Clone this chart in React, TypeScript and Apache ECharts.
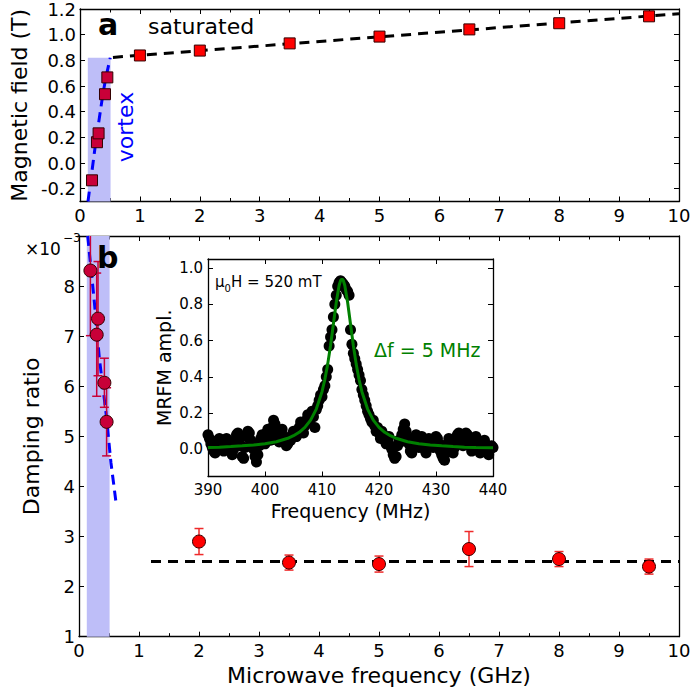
import React, { useEffect, useRef } from 'react';
import * as echarts from 'echarts';

const FONT = 'DejaVu Sans';

// ---------- Panel a : magnetic field vs microwave frequency ----------
const fieldTicks = [-0.2, 0.0, 0.2, 0.4, 0.6, 0.8, 1.0, 1.2];
const vortexFreqA = [0.2, 0.283, 0.31, 0.417, 0.456];
const vortexFieldA = [-0.135, 0.162, 0.231, 0.536, 0.667];
const satFreqA = [1, 2, 3.5, 5, 6.5, 8, 9.5];
const satFieldA = [0.838, 0.876, 0.932, 0.985, 1.041, 1.089, 1.143];
const satFitFreqA = [0.55, 10];
const satFitFieldA = [0.823, 1.163];
const vortexFitFreqA = [0.133, 0.178, 0.262, 0.383, 0.433, 0.505];
const vortexFitFieldA = [-0.3, -0.14, 0.16, 0.54, 0.67, 0.82];
const shadeA = [[0.13, 0.51, -0.3, 0.82]];

// ---------- Panel b : damping ratio (x1e-3) vs microwave frequency ----------
const dampLabelTicks = [1, 2, 3, 4, 5, 6, 7, 8];
const vortexFreqB = [0.19, 0.317, 0.295, 0.423, 0.46];
const vortexDampB = [8.31, 7.35, 7.03, 6.07, 5.29];
const vortexErrB = [1.3, 1.14, 1.23, 0.49, 0.68];
const satFreqB = [2, 3.5, 5, 6.5, 8, 9.5];
const satDampB = [2.9, 2.48, 2.45, 2.75, 2.55, 2.4];
const satErrB = [0.26, 0.15, 0.16, 0.35, 0.15, 0.15];
const vortexFitFreqB = [0.145, 0.256, 0.34, 0.45, 0.533, 0.617];
const vortexFitDampB = [9.0, 7.68, 6.55, 5.47, 4.47, 3.68];
const satFitFreqB = [1.2, 10];
const satFitDampB = [2.5, 2.5];
const shadeB = [[0.13, 0.51, 1, 9]];

// ---------- Inset : MRFM spectrum ----------
const ampTicks = [0.0, 0.2, 0.4, 0.6, 0.8, 1.0];
const sweepStartMHz = 390;
const sweepStepMHz = 0.25;
const mrfmAmp = [
  0.08, 0.06, 0.03, 0.01,
  -0.01, -0.02, 0.02, 0.05,
  0.06, 0.04, 0.01, -0.01,
  0.03, 0.06, 0.05, 0.02,
  -0.01, -0.03, 0.0, 0.04,
  0.08, 0.09, 0.06, 0.02,
  -0.04, -0.05, 0.01, 0.07,
  0.1, 0.09, 0.05, 0.03,
  0.0, -0.04, -0.07, -0.03,
  0.02, 0.06, 0.08, 0.05,
  0.03, 0.09, 0.11, 0.07,
  0.05, 0.12, 0.16, 0.14,
  0.09, 0.05, 0.04, 0.08,
  0.11, 0.07, 0.04, 0.02,
  0.03, 0.06, 0.05, 0.08,
  0.1, 0.09, 0.07, 0.1,
  0.12, 0.15, 0.11, 0.09,
  0.13, 0.16, 0.19, 0.15,
  0.17, 0.21, 0.18, 0.12,
  0.22, 0.24, 0.27, 0.3,
  0.29, 0.33, 0.35, 0.4,
  0.44, 0.57, 0.62, 0.66,
  0.73, 0.8, 0.85, 0.9,
  0.92, 0.93, 0.92, 0.91,
  0.9, 0.88, 0.87, 0.85,
  0.66, 0.58, 0.53, 0.5,
  0.47, 0.44, 0.41, 0.38,
  0.33, 0.3, 0.27, 0.24,
  0.21, 0.19, 0.17, 0.15,
  0.16, 0.13, 0.1, 0.12,
  0.09, 0.06, 0.1, 0.08,
  0.05, 0.03, 0.05, 0.07,
  0.02, 0.0, -0.03, -0.05,
  -0.04, 0.02, 0.05, 0.04,
  0.08, 0.11, 0.14, 0.1,
  0.06, 0.03, -0.01, -0.02,
  0.02, 0.06, 0.08, 0.04,
  0.01, 0.05, 0.07, 0.03,
  0.0, -0.02, 0.04, 0.06,
  0.05, 0.02, 0.01, 0.04,
  0.07, 0.06, 0.03, -0.01,
  -0.03, -0.05, -0.06, -0.02,
  0.03, 0.06, 0.04, 0.0,
  -0.02, 0.01, 0.05, 0.08,
  0.09, 0.07, 0.04, 0.02,
  0.05, 0.09, 0.08, 0.05,
  0.02, -0.01, 0.03, 0.06,
  0.07, 0.04, 0.01, -0.02,
  0.0, 0.03, 0.05, 0.02,
  -0.01, -0.03, 0.0, 0.02,
  0.01,
];
const fitFreq = [390, 392, 394, 396, 398, 400, 402, 404, 405, 406, 407, 408, 409, 410, 410.5, 411, 411.5, 412, 412.5, 413, 413.25, 413.5, 413.75, 414, 414.5, 415, 415.5, 416, 416.5, 417, 418, 419, 420, 421, 422, 423, 425, 427, 429, 431, 433, 435, 437, 440];
const fitAmp = [0.01, 0.012, 0.015, 0.019, 0.024, 0.031, 0.042, 0.061, 0.075, 0.094, 0.121, 0.161, 0.222, 0.318, 0.385, 0.47, 0.573, 0.691, 0.81, 0.904, 0.931, 0.94, 0.931, 0.904, 0.81, 0.691, 0.573, 0.47, 0.385, 0.318, 0.222, 0.161, 0.121, 0.094, 0.075, 0.061, 0.042, 0.031, 0.024, 0.019, 0.015, 0.012, 0.01, 0.008];

const SHADE = 'rgb(190,190,248)';
const CRIMSON = '#c80038';
const RED = '#ff0000';
const GREEN = '#008000';

const zip = (a: number[], b: number[]) => a.map((v, i) => [v, b[i]]);
const zip3 = (a: number[], b: number[], c: number[]) => a.map((v, i) => [v, b[i], c[i]]);

const shadeRender = (_params: any, api: any) => {
  const p0 = api.coord([api.value(0), api.value(3)]);
  const p1 = api.coord([api.value(1), api.value(2)]);
  return {
    type: 'rect',
    shape: { x: p0[0], y: p0[1], width: p1[0] - p0[0], height: p1[1] - p0[1] },
    style: { fill: SHADE },
  };
};

const makeErrRender = (color: string) => (params: any, api: any) => {
  const x = api.value(0);
  const y = api.value(1);
  const e = api.value(2);
  const cs = params.coordSys;
  const pTop = api.coord([x, y + e]);
  const pBot = api.coord([x, y - e]);
  const yTop = Math.max(pTop[1], cs.y);
  const yBot = Math.min(pBot[1], cs.y + cs.height);
  const cw = 4.5;
  const st = { stroke: color, lineWidth: 1.5 };
  const children: any[] = [
    { type: 'line', shape: { x1: pTop[0], y1: yTop, x2: pTop[0], y2: yBot }, style: st },
  ];
  if (pTop[1] >= cs.y) {
    children.push({ type: 'line', shape: { x1: pTop[0] - cw, y1: pTop[1], x2: pTop[0] + cw, y2: pTop[1] }, style: st });
  }
  if (pBot[1] <= cs.y + cs.height) {
    children.push({ type: 'line', shape: { x1: pBot[0] - cw, y1: pBot[1], x2: pBot[0] + cw, y2: pBot[1] }, style: st });
  }
  return { type: 'group', children };
};

const axLine = { show: true, onZero: false, lineStyle: { color: '#000', width: 1.3 } };
const tickStyle = { color: '#000', width: 1 };

function mainX(gridIndex: number, top: boolean, name?: string) {
  return {
    type: 'value',
    gridIndex,
    position: top ? 'top' : 'bottom',
    min: 0,
    max: 10,
    interval: 1,
    axisLine: axLine,
    axisTick: { show: true, inside: true, length: 5, lineStyle: tickStyle },
    minorTick: { show: true, splitNumber: 2, length: 3.5, lineStyle: tickStyle },
    splitLine: { show: false },
    minorSplitLine: { show: false },
    axisLabel: { show: !top, color: '#000', fontSize: 18, margin: 5, fontFamily: FONT },
    name: name || '',
    nameLocation: 'middle',
    nameGap: 28,
    nameTextStyle: { color: '#000', fontSize: 22, fontFamily: FONT },
  };
}

const option: any = {
  animation: false,
  backgroundColor: '#fff',
  textStyle: { fontFamily: FONT },
  grid: [
    { left: 79, top: 5, width: 600, height: 196.5, show: false },
    { left: 79, top: 236, width: 600, height: 400.7, show: false },
    { left: 208, top: 259, width: 285, height: 217.5, show: true, backgroundColor: '#fff', borderWidth: 0, z: 5 },
  ],
  xAxis: [
    mainX(0, false),
    mainX(0, true),
    mainX(1, false, 'Microwave frequency (GHz)'),
    mainX(1, true),
    {
      type: 'value', gridIndex: 2, position: 'bottom', min: 390, max: 440, interval: 10,
      axisLine: axLine,
      axisTick: { show: true, inside: true, length: 5, lineStyle: tickStyle },
      splitLine: { show: false },
      axisLabel: { color: '#000', fontSize: 15, margin: 6, fontFamily: FONT },
      name: 'Frequency (MHz)', nameLocation: 'middle', nameGap: 25,
      nameTextStyle: { color: '#000', fontSize: 19, fontFamily: FONT },
      z: 6,
    },
    {
      type: 'value', gridIndex: 2, position: 'top', min: 390, max: 440, interval: 10,
      axisLine: axLine,
      axisTick: { show: true, inside: true, length: 5, lineStyle: tickStyle },
      splitLine: { show: false },
      axisLabel: { show: false },
      z: 6,
    },
  ],
  yAxis: [
    {
      type: 'value', gridIndex: 0, position: 'left', min: -0.3, max: 1.2,
      axisLine: axLine,
      axisTick: { show: true, inside: true, length: 5, lineStyle: tickStyle, customValues: fieldTicks },
      splitLine: { show: false },
      axisLabel: { color: '#000', fontSize: 18, margin: 4, fontFamily: FONT, customValues: fieldTicks, formatter: (v: number) => v.toFixed(1) },
      name: 'Magnetic field (T)', nameLocation: 'middle', nameGap: 45,
      nameTextStyle: { color: '#000', fontSize: 22, fontFamily: FONT },
    },
    {
      type: 'value', gridIndex: 0, position: 'right', min: -0.3, max: 1.2,
      axisLine: axLine,
      axisTick: { show: true, inside: true, length: 5, lineStyle: tickStyle, customValues: fieldTicks },
      splitLine: { show: false },
      axisLabel: { show: false },
    },
    {
      type: 'value', gridIndex: 1, position: 'left', min: 1, max: 9, interval: 1,
      axisLine: axLine,
      axisTick: { show: true, inside: true, length: 5, lineStyle: tickStyle },
      splitLine: { show: false },
      axisLabel: { color: '#000', fontSize: 18, margin: 4, fontFamily: FONT, customValues: dampLabelTicks },
      name: 'Damping ratio', nameLocation: 'middle', nameGap: 37,
      nameTextStyle: { color: '#000', fontSize: 22, fontFamily: FONT },
    },
    {
      type: 'value', gridIndex: 1, position: 'right', min: 1, max: 9, interval: 1,
      axisLine: axLine,
      axisTick: { show: true, inside: true, length: 5, lineStyle: tickStyle },
      splitLine: { show: false },
      axisLabel: { show: false },
    },
    {
      type: 'value', gridIndex: 2, position: 'left', min: -0.15, max: 1.05,
      axisLine: axLine,
      axisTick: { show: true, inside: true, length: 5, lineStyle: tickStyle, customValues: ampTicks },
      splitLine: { show: false },
      axisLabel: { color: '#000', fontSize: 15, margin: 5, fontFamily: FONT, customValues: ampTicks, formatter: (v: number) => v.toFixed(1) },
      name: 'MRFM ampl.', nameLocation: 'middle', nameGap: 35,
      nameTextStyle: { color: '#000', fontSize: 19, fontFamily: FONT },
      z: 6,
    },
    {
      type: 'value', gridIndex: 2, position: 'right', min: -0.15, max: 1.05,
      axisLine: axLine,
      axisTick: { show: true, inside: true, length: 5, lineStyle: tickStyle, customValues: ampTicks },
      splitLine: { show: false },
      axisLabel: { show: false },
      z: 6,
    },
  ],
  series: [
    // ---- panel a ----
    {
      type: 'custom', xAxisIndex: 0, yAxisIndex: 0, data: shadeA, renderItem: shadeRender,
      encode: { x: [0, 1], y: [2, 3] }, z: 1, silent: true,
    },
    {
      type: 'line', xAxisIndex: 0, yAxisIndex: 0, data: zip(satFitFreqA, satFitFieldA), symbol: 'none',
      lineStyle: { color: '#000', width: 3, type: [10, 7] }, z: 2,
    },
    {
      type: 'line', xAxisIndex: 0, yAxisIndex: 0, data: zip(vortexFitFreqA, vortexFitFieldA), symbol: 'none',
      lineStyle: { color: '#0000ff', width: 3, type: [10, 6] }, z: 2,
    },
    {
      type: 'scatter', xAxisIndex: 0, yAxisIndex: 0, data: zip(vortexFreqA, vortexFieldA), symbol: 'rect', symbolSize: 11,
      itemStyle: { color: CRIMSON, borderColor: '#300', borderWidth: 1, opacity: 1 }, z: 3,
    },
    {
      type: 'scatter', xAxisIndex: 0, yAxisIndex: 0, data: zip(satFreqA, satFieldA), symbol: 'rect', symbolSize: 11,
      itemStyle: { color: RED, borderColor: '#300', borderWidth: 1, opacity: 1 }, z: 3,
    },
    // ---- panel b ----
    {
      type: 'custom', xAxisIndex: 2, yAxisIndex: 2, data: shadeB, renderItem: shadeRender,
      encode: { x: [0, 1], y: [2, 3] }, z: 1, silent: true,
    },
    {
      type: 'line', xAxisIndex: 2, yAxisIndex: 2, data: zip(vortexFitFreqB, vortexFitDampB), symbol: 'none',
      lineStyle: { color: '#0000ff', width: 3, type: [10, 6] }, z: 2,
    },
    {
      type: 'line', xAxisIndex: 2, yAxisIndex: 2, data: zip(satFitFreqB, satFitDampB), symbol: 'none',
      lineStyle: { color: '#000', width: 3, type: [10, 7] }, z: 2,
    },
    {
      type: 'custom', xAxisIndex: 2, yAxisIndex: 2, data: zip3(vortexFreqB, vortexDampB, vortexErrB),
      renderItem: makeErrRender(CRIMSON), encode: { x: 0, y: 1 }, z: 3, silent: true,
    },
    {
      type: 'custom', xAxisIndex: 2, yAxisIndex: 2, data: zip3(satFreqB, satDampB, satErrB),
      renderItem: makeErrRender('#ee2a2a'), encode: { x: 0, y: 1 }, z: 3, silent: true,
    },
    {
      type: 'scatter', xAxisIndex: 2, yAxisIndex: 2, data: zip(vortexFreqB, vortexDampB), symbol: 'circle', symbolSize: 13,
      itemStyle: { color: CRIMSON, borderColor: '#300', borderWidth: 1, opacity: 1 }, z: 4,
    },
    {
      type: 'scatter', xAxisIndex: 2, yAxisIndex: 2, data: zip(satFreqB, satDampB), symbol: 'circle', symbolSize: 13,
      itemStyle: { color: RED, borderColor: '#300', borderWidth: 1, opacity: 1 }, z: 4,
    },
    // ---- inset ----
    {
      type: 'scatter', xAxisIndex: 4, yAxisIndex: 4,
      data: mrfmAmp.map((a, i) => [sweepStartMHz + i * sweepStepMHz, a]),
      symbol: 'circle', symbolSize: 11, itemStyle: { color: '#000', opacity: 1 }, z: 6,
    },
    {
      type: 'line', xAxisIndex: 4, yAxisIndex: 4, data: zip(fitFreq, fitAmp), symbol: 'none',
      lineStyle: { color: GREEN, width: 3 }, z: 7,
    },
  ],
  graphic: [
    { type: 'text', x: 98, y: 24, z: 20, style: { text: 'a', font: `bold 30px "${FONT}"`, fill: '#000', textAlign: 'left', textVerticalAlign: 'middle' } },
    { type: 'text', x: 148, y: 26, z: 20, style: { text: 'saturated', font: `22px "${FONT}"`, fill: '#000', textAlign: 'left', textVerticalAlign: 'middle' } },
    { type: 'text', x: 125, y: 127, rotation: Math.PI / 2, z: 20, style: { text: 'vortex', font: `22px "${FONT}"`, fill: '#0000ff', textAlign: 'center', textVerticalAlign: 'middle' } },
    { type: 'text', x: 97, y: 257, z: 20, style: { text: 'b', font: `bold 30px "${FONT}"`, fill: '#000', textAlign: 'left', textVerticalAlign: 'middle' } },
    { type: 'text', x: 25, y: 249, z: 20, style: { text: '×10', font: `17px "${FONT}"`, fill: '#000', textAlign: 'left', textVerticalAlign: 'middle' } },
    { type: 'text', x: 63, y: 238, z: 20, style: { text: '−3', font: `12px "${FONT}"`, fill: '#000', textAlign: 'left', textVerticalAlign: 'middle' } },
    { type: 'text', x: 215, y: 282, z: 20, style: { text: 'μ', font: `15px "${FONT}"`, fill: '#000', textAlign: 'left', textVerticalAlign: 'middle' } },
    { type: 'text', x: 224.5, y: 288, z: 20, style: { text: '0', font: `10px "${FONT}"`, fill: '#000', textAlign: 'left', textVerticalAlign: 'middle' } },
    { type: 'text', x: 231, y: 282, z: 20, style: { text: 'H = 520 mT', font: `15px "${FONT}"`, fill: '#000', textAlign: 'left', textVerticalAlign: 'middle' } },
    { type: 'text', x: 374, y: 350, z: 20, style: { text: 'Δf = 5 MHz', font: `19px "${FONT}"`, fill: GREEN, textAlign: 'left', textVerticalAlign: 'middle' } },
  ],
};

export default function App() {
  const ref = useRef<HTMLDivElement>(null);
  useEffect(() => {
    document.body.style.margin = '0';
    const chart = echarts.init(ref.current as HTMLDivElement, null, { renderer: 'svg' });
    chart.setOption(option);
    return () => chart.dispose();
  }, []);
  return <div ref={ref} style={{ width: 694, height: 696 }} />;
}
